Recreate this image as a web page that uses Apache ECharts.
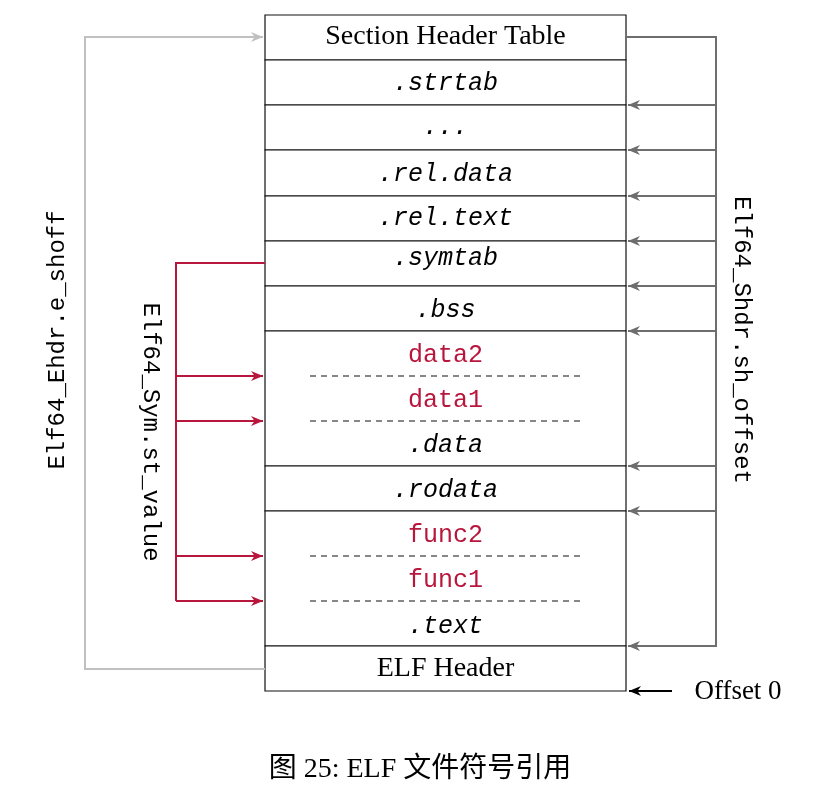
<!DOCTYPE html>
<html>
<head>
<meta charset="utf-8">
<script src="https://cdn.jsdelivr.net/npm/echarts@6/dist/echarts.min.js"></script>
<style>html,body{margin:0;padding:0;background:#fff}#chart-container{width:838px;height:811px}</style>
</head>
<body>
<div id="chart-container"></div>
<script>
var dom = document.getElementById("chart-container");
var myChart = echarts.init(dom, null, { renderer: "canvas" });

// table geometry
var boxLeft = 265, boxRight = 626;
var rowEdges = [15, 60, 105, 150, 196, 241, 286, 331, 466, 511, 646, 691];
var dashRows = [376, 421, 556, 601];

// labels inside the table
var serifLabels = [["Section Header Table", 37], ["ELF Header", 669]];
var monoLabels = [[".strtab", 83], ["...", 127], [".rel.data", 174], [".rel.text", 218],
  [".symtab", 258], [".bss", 310], [".data", 445], [".rodata", 490], [".text", 626]];
var redLabels = [["data2", 355], ["data1", 400], ["func2", 535], ["func1", 580]];

// arrows
var shdrTargets = [105, 150, 196, 241, 286, 331, 466, 511];
var symTargets = [376, 421, 556, 601];

var gray = "#6e6e6e", light = "#c0c0c0", red = "#b8163c";

var rectSeries = {
  type: "custom",
  coordinateSystem: "cartesian2d",
  silent: true,
  data: rowEdges.slice(0, -1).map(function (y, i) { return [y, rowEdges[i + 1]]; }),
  renderItem: function (params, api) {
    var a = api.coord([boxLeft, api.value(0)]);
    var b = api.coord([boxRight, api.value(1)]);
    return {
      type: "rect",
      shape: { x: a[0], y: a[1], width: b[0] - a[0], height: b[1] - a[1] },
      style: { fill: "#fff", stroke: "#111", lineWidth: 1.2 }
    };
  }
};

function textSeries(items, color, family, style, size) {
  return {
    type: "scatter",
    symbolSize: 0,
    silent: true,
    itemStyle: { opacity: 1 },
    data: items.map(function (d) { return { name: d[0], value: [(boxLeft + boxRight) / 2, d[1]] }; }),
    label: { show: true, position: "inside", formatter: "{b}", color: color, opacity: 1,
      fontFamily: family, fontStyle: style, fontSize: size }
  };
}

function freeText(text, x, y, rot, size, family, color) {
  return {
    type: "scatter", symbolSize: 0, silent: true, itemStyle: { opacity: 1 },
    data: [{ name: text, value: [x, y] }],
    label: { show: true, position: "inside", formatter: "{b}", rotate: rot, opacity: 1,
      fontSize: size, fontFamily: family, color: color || "#000" }
  };
}

// polylines; the last segment of each path gets an arrowhead when arrow is true
function pathSeries(paths, color, arrow, dash) {
  return {
    type: "custom",
    coordinateSystem: "cartesian2d",
    silent: true,
    data: paths.map(function (p, i) { return [i]; }),
    renderItem: function (params, api) {
      var pts = paths[params.dataIndex].map(function (c) { return api.coord(c); });
      var children = [{
        type: "polyline",
        shape: { points: pts },
        style: { stroke: color, lineWidth: dash ? 1.2 : 2, fill: null, lineDash: dash ? [6, 5] : null }
      }];
      if (arrow) {
        var e = pts[pts.length - 1], s = pts[pts.length - 2];
        var dx = e[0] - s[0], dy = e[1] - s[1], len = Math.sqrt(dx * dx + dy * dy);
        var ux = dx / len, uy = dy / len, L = 12, W = 5;
        children.push({
          type: "polygon",
          shape: { points: [e, [e[0] - ux * L - uy * W, e[1] - uy * L + ux * W],
            [e[0] - ux * L * 0.7, e[1] - uy * L * 0.7],
            [e[0] - ux * L + uy * W, e[1] - uy * L - ux * W]] },
          style: { fill: color }
        });
      }
      return { type: "group", children: children };
    }
  };
}

var option = {
  animation: false,
  grid: { left: 0, right: 0, top: 0, bottom: 0 },
  xAxis: { type: "value", min: 0, max: 838, show: false },
  yAxis: { type: "value", min: 0, max: 811, inverse: true, show: false },
  series: [
    rectSeries,
    pathSeries(dashRows.map(function (y) { return [[310, y], [582, y]]; }), "#111", false, true),
    textSeries(serifLabels, "#000", "Liberation Serif", "normal", 28),
    textSeries(monoLabels, "#000", "Liberation Mono", "italic", 25),
    textSeries(redLabels, red, "Liberation Mono", "normal", 25),
    // section header offsets
    pathSeries([[[boxRight, 37], [716, 37], [716, 646], [628, 646]]], gray, true),
    pathSeries(shdrTargets.map(function (y) { return [[716, y], [628, y]]; }), gray, true),
    // e_shoff
    pathSeries([[[boxLeft, 669], [85, 669], [85, 37], [263, 37]]], light, true),
    // symbol values
    pathSeries([[[boxLeft, 263], [176, 263], [176, 601]]], red, false),
    pathSeries(symTargets.map(function (y) { return [[176, y], [263, y]]; }), red, true),
    // offset 0
    pathSeries([[[672, 691], [629, 691]]], "#000", true),
    freeText("Offset 0", 738, 692, 0, 27, "Liberation Serif"),
    freeText("Elf64_Shdr.sh_offset", 741, 340, -90, 24, "Liberation Mono"),
    freeText("Elf64_Ehdr.e_shoff", 58, 340, 90, 24, "Liberation Mono"),
    freeText("Elf64_Sym.st_value", 150, 432, -90, 24, "Liberation Mono"),
    freeText("图 25: ELF 文件符号引用", 420, 770, 0, 28, "Liberation Serif, Noto Sans CJK SC")
  ]
};

myChart.setOption(option);
window.addEventListener("resize", myChart.resize);
</script>
</body>
</html>
